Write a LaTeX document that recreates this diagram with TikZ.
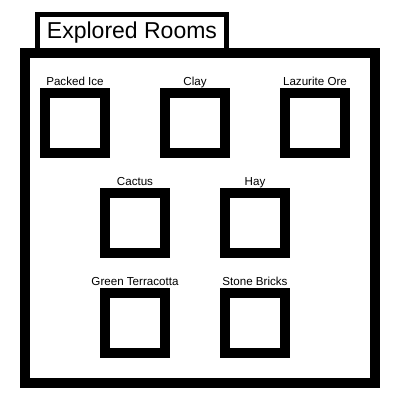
\documentclass[tikz,border=0pt]{standalone}
\usepackage{fontspec}
\setmainfont{Liberation Sans}
\usepackage{tikz}

\tikzset{
  room/.style={draw, line width=10pt, minimum size=60pt, inner sep=0pt},
  roomname/.style={anchor=base, inner sep=0pt, font=\fontsize{11.6}{12}\selectfont},
  tab/.style={draw, line width=5pt, fill=white, minimum width=189pt, minimum height=36pt, inner sep=0pt,
    font=\fontsize{23}{23}\selectfont}
}

\begin{document}
\begin{tikzpicture}[x=1pt, y=-1pt]
      \useasboundingbox (0,0) rectangle (400,400);
      \node[tab] (title) at (132, 32.5) {Explored Rooms};
      \draw[line width=10pt] (25,53) rectangle (375,383);

      \foreach \x/\y/\n/\name in {75/123/ice/Packed Ice, 195/123/clay/Clay, 315/123/ore/Lazurite Ore,
        135/223/cactus/Cactus, 255/223/hay/Hay, 135/323/terra/Green Terracotta, 255/323/bricks/Stone Bricks} {
        \node[room] (\n) at (\x, \y) {};
        \node[roomname] (l\n) at (\x, \y-38) {\name};
      };
    \end{tikzpicture}
\end{document}
